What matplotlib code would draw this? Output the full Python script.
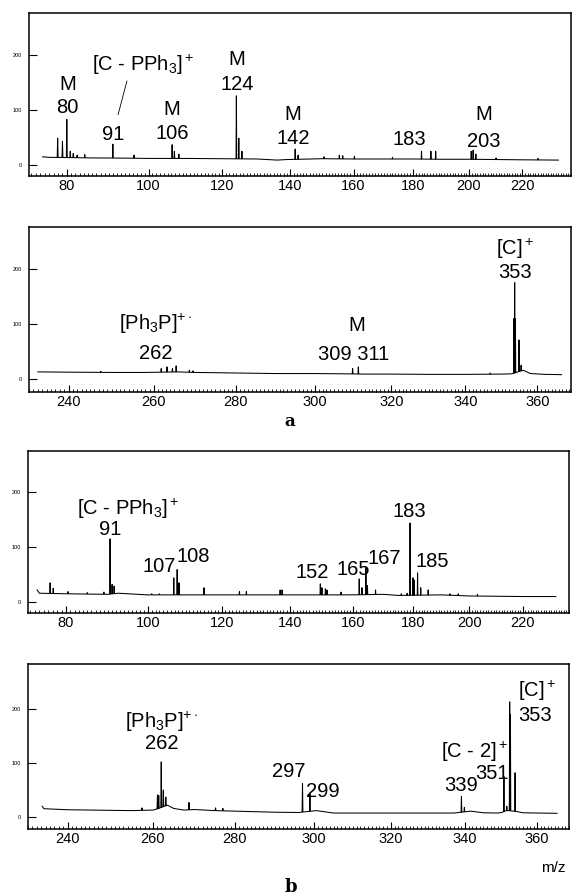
import numpy as np
import matplotlib
matplotlib.use("Agg")
import matplotlib.pyplot as plt
from matplotlib.ticker import MultipleLocator, FixedLocator

plt.rcParams['font.family'] = ['Liberation Sans', 'DejaVu Sans']
plt.rcParams['mathtext.fontset'] = 'custom'
plt.rcParams['mathtext.rm'] = 'Liberation Sans'
plt.rcParams['mathtext.it'] = 'Liberation Sans:italic'
plt.rcParams['mathtext.bf'] = 'Liberation Sans:bold'

# ---------------- data (m/z, relative intensity) ----------------
# panel a, low mass range
base1_mz = [74.5, 76, 85, 95, 100, 110, 120, 130, 136, 139, 150, 160, 170, 180, 190, 200, 210, 220, 234]
base1_y = [15, 14, 13, 12.5, 12, 12, 11.5, 11, 9, 10, 11.5, 11, 11, 11, 10.5, 10.5, 10, 9.5, 9]
peaks1_mz = [77.9, 79.0, 80.0, 80.8, 81.5, 82.4, 84.2, 91.0, 96.3, 106.2, 106.8, 108.0,
             124.0, 124.7, 125.6, 141.5, 142.4, 150.5, 155.4, 156.5, 160.3, 173.0,
             183.0, 186.3, 188.0, 200.8, 201.5, 202.5, 210.0, 226.0]
peaks1_h = [49, 43, 83, 25, 21, 18, 19, 38, 18, 37, 25, 20,
            126, 49, 25, 29, 18, 15, 18, 17, 16, 14,
            25, 25, 25, 25, 27, 20, 13, 12]

# panel a, high mass range
base2_mz = [233, 240, 250, 258, 262, 266, 270, 275, 280, 290, 300, 308, 313, 320, 330, 340,
            350, 352.8, 356, 358, 362, 366.8]
base2_y = [13, 12.5, 12, 12, 12.5, 13, 12, 11.5, 11, 10, 10, 9.5, 9, 9, 8.5, 8.5,
           9, 9.5, 16, 10, 8.5, 8]
peaks2_mz = [247.5, 261.8, 263.2, 264.5, 265.4, 268.6, 269.5, 309.8, 311.3, 346.8,
             353.4, 353.6, 353.8, 354.8, 355.4]
peaks2_h = [14, 19, 22, 19, 24, 16, 15, 19, 22, 11, 110, 175, 110, 71, 25]

# panel b, low mass range
base3_mz = [73.5, 74, 80, 85, 90, 92.5, 100, 110, 120, 130, 140, 150, 160, 170, 175,
            190, 200, 210, 220, 232.8]
base3_y = [22, 16, 15, 14.5, 14, 16, 13, 13, 13, 13, 13, 13, 13, 14, 12,
           13, 11, 10.5, 10, 10]
peaks3_mz = [76.4, 77.1, 80.5, 85.0, 89.0, 90.5, 91.0, 91.5, 101.0, 103.0, 106.8, 107.7,
             108.2, 115.0, 125.0, 127.0, 137.0, 137.6, 149.4, 149.9, 151.0, 151.5, 156.0,
             161.9, 162.8, 164.1, 164.6, 167.3, 176.0, 178.0, 179.0, 180.0, 180.4, 181.6,
             182.7, 185.3, 193.0, 196.0, 203.0]
peaks3_h = [35, 25, 19, 17, 18, 115, 32, 29, 15, 15, 44, 59,
            35, 26, 19, 19, 22, 22, 33, 26, 24, 22, 18,
            42, 26, 62, 30, 22, 15, 16, 144, 44, 40, 53,
            26, 22, 15, 15, 14]

# panel b, high mass range
base4_mz = [234.2, 234.6, 240, 250, 255, 260, 261, 263.5, 265, 267.5, 270, 275, 280, 290,
            296, 300.5, 305, 320, 337, 341.5, 345, 349, 350.3, 351.3, 352, 354.5, 356, 360, 365.6]
base4_y = [20, 15.5, 13.6, 12.5, 12, 13, 15, 22, 16, 13, 14, 12, 11, 9,
           8.5, 12, 7.5, 7.5, 7.5, 11, 8, 7.5, 9, 12, 12, 10, 8, 7.5, 7]
peaks4_mz = [257.4, 261.1, 261.4, 262.0, 262.5, 263.1, 268.7, 275.2, 277.0, 297.0, 298.9,
             339.0, 339.8, 350.7, 351.5, 352.3, 352.5, 353.8]
peaks4_h = [17, 41, 40, 102, 50, 37, 27, 17, 16, 62, 43,
            38, 18, 75, 20, 213, 190, 82]

x_ticks_low = [80, 100, 120, 140, 160, 180, 200, 220]
x_ticks_high = [240, 260, 280, 300, 320, 340, 360]
y_ticks = [0, 100, 200]

# ---------------- helpers ----------------
def spectrum(bmz, by, pmz, ph, w=0.1):
    bmz = np.asarray(bmz, float); by = np.asarray(by, float)
    pts = []
    pmz_a = np.asarray(pmz, float)
    for m, y in zip(bmz, by):
        if np.all(np.abs(pmz_a - m) > w):
            pts.append((m, y))
    for m, h in zip(pmz, ph):
        b = float(np.interp(m, bmz, by))
        pts += [(m - w, b), (m, h), (m + w, b)]
    pts.sort()
    xs, ys = zip(*pts)
    return np.array(xs), np.array(ys)

fwd = lambda x: np.sqrt(np.clip(x, 0, None))
inv = lambda x: np.square(x)

W, H = 573, 896
fig = plt.figure(figsize=(W / 100, H / 100), dpi=100)

def make_ax(left, right, top, bottom, xlim, ylim, xticks):
    ax = fig.add_axes([left / W, 1 - bottom / H, (right - left) / W, (bottom - top) / H])
    ax.set_xscale('function', functions=(fwd, inv))
    ax.set_xlim(*xlim)
    ax.set_ylim(*ylim)
    ax.xaxis.set_major_locator(FixedLocator(xticks))
    ax.xaxis.set_minor_locator(MultipleLocator(1))
    ax.yaxis.set_major_locator(FixedLocator(y_ticks))
    ax.yaxis.set_minor_locator(FixedLocator([]))
    ax.set_xticklabels([str(t) for t in xticks])
    ax.tick_params(axis='x', which='major', direction='in', length=5, width=0.8,
                   labelsize=10.5, pad=2.5)
    ax.tick_params(axis='x', which='minor', direction='in', length=2.3, width=0.6)
    ax.tick_params(axis='y', which='major', direction='in', length=6, width=0.8,
                   labelsize=4, pad=5)
    ax.tick_params(top=False, right=False, which='both')
    for s in ax.spines.values():
        s.set_linewidth(1.1)
    return ax

LS = dict(color='black', lw=0.75)
TS = dict(ha='center', va='center', fontsize=14.5, color='black')

# ---- panel 1 ----
ax1 = make_ax(29, 571, 13, 176, (71.5, 239), (-20, 277), x_ticks_low)
x, y = spectrum(base1_mz, base1_y, peaks1_mz, peaks1_h)
ax1.plot(x, y, **LS)
ax1.text(80.2, 147, 'M', **TS)
ax1.text(80.2, 104, '80', **TS)
ax1.text(98.6, 183, r'[C - PPh$_3$]$^+$', **TS)
ax1.plot([92.3, 94.5], [92, 153], color='black', lw=0.6)
ax1.text(91.2, 55, '91', **TS)
ax1.text(106.2, 101, 'M', **TS)
ax1.text(106.2, 58, '106', **TS)
ax1.text(124.2, 193, 'M', **TS)
ax1.text(124.2, 147, '124', **TS)
ax1.text(140.8, 92, 'M', **TS)
ax1.text(140.8, 49, '142', **TS)
ax1.text(178.7, 46, '183', **TS)
ax1.text(205.3, 92, 'M', **TS)
ax1.text(205.3, 43, '203', **TS)

# ---- panel 2 ----
ax2 = make_ax(29, 571, 227, 392, (231, 369.5), (-23.5, 276), x_ticks_high)
x, y = spectrum(base2_mz, base2_y, peaks2_mz, peaks2_h)
ax2.plot(x, y, **LS)
ax2.text(260.4, 100, r'[Ph$_3$P]$^{+\cdot}$', **TS)
ax2.text(260.4, 46, '262', **TS)
ax2.text(311.0, 98, 'M', **TS)
ax2.text(310.0, 44, '309 311', **TS)
ax2.text(353.7, 236, r'[C]$^+$', **TS)
ax2.text(353.7, 193, '353', **TS)

fig.text(290 / W, 1 - 422 / H, 'a', ha='center', va='center', fontsize=12,
         family='DejaVu Serif', weight='bold')

# ---- panel 3 ----
ax3 = make_ax(28, 569, 451, 613, (71.5, 238), (-20, 275), x_ticks_low)
x, y = spectrum(base3_mz, base3_y, peaks3_mz, peaks3_h)
ax3.plot(x, y, **LS)
ax3.text(94.9, 170, r'[C - PPh$_3$]$^+$', **TS)
ax3.text(90.5, 132, '91', **TS)
ax3.text(102.9, 65, '107', **TS)
ax3.text(112.1, 83, '108', **TS)
ax3.text(146.9, 53, '152', **TS)
ax3.text(160.0, 59, '165', **TS)
ax3.text(170.2, 80, '167', **TS)
ax3.text(178.8, 165, '183', **TS)
ax3.text(186.7, 74, '185', **TS)

# ---- panel 4 ----
ax4 = make_ax(28, 569, 664, 829, (231, 369), (-22, 283), x_ticks_high)
x, y = spectrum(base4_mz, base4_y, peaks4_mz, peaks4_h)
ax4.plot(x, y, **LS)
ax4.text(262.2, 176, r'[Ph$_3$P]$^{+\cdot}$', **TS)
ax4.text(262.2, 136, '262', **TS)
ax4.text(293.5, 84, '297', **TS)
ax4.text(302.3, 48, '299', **TS)
ax4.text(339.0, 59, '339', **TS)
ax4.text(342.5, 120, r'[C - 2]$^+$', **TS)
ax4.text(347.4, 80, '351', **TS)
ax4.text(360.0, 234, r'[C]$^+$', **TS)
ax4.text(359.5, 187, '353', **TS)

fig.text(553 / W, 1 - 868 / H, 'm/z', ha='center', va='center', fontsize=11)
fig.text(291 / W, 1 - 887 / H, 'b', ha='center', va='center', fontsize=13,
         family='DejaVu Serif', weight='bold')

fig.savefig('out.png', dpi=100)
